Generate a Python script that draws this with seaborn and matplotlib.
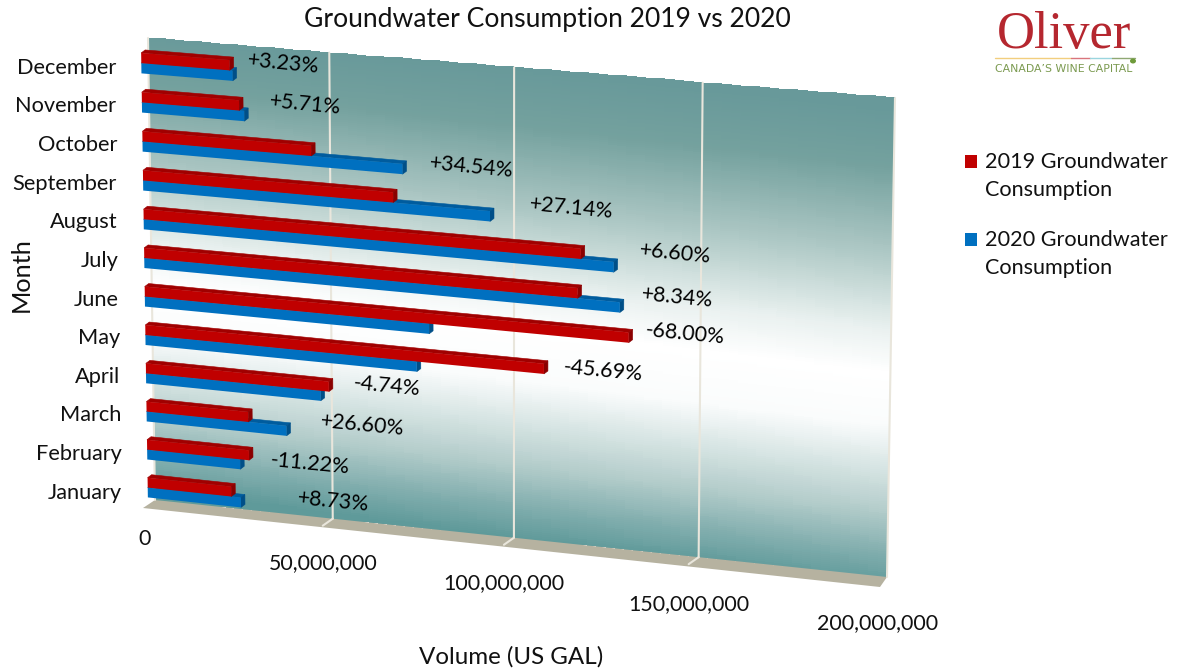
import numpy as np
import pandas as pd
import seaborn as sns
import matplotlib
matplotlib.use("Agg")
import matplotlib.pyplot as plt
from matplotlib.transforms import Transform, Affine2D
from matplotlib.colors import LinearSegmentedColormap
from matplotlib.patches import Polygon, Ellipse

months = ["December", "November", "October", "September", "August", "July",
          "June", "May", "April", "March", "February", "January"]
vol_2019 = [24.6, 27.1, 46.9, 69.3, 120.0, 119.2, 132.9, 110.2, 51.3, 28.7, 28.8, 23.7]
vol_2020 = [25.4, 28.5, 71.9, 95.6, 128.8, 130.5, 79.0, 75.6, 49.0, 39.4, 26.3, 26.4]
changes = ["+3.23%", "+5.71%", "+34.54%", "+27.14%", "+6.60%", "+8.34%",
           "-68.00%", "-45.69%", "-4.74%", "+26.60%", "-11.22%", "+8.73%"]
label_xy = [(283, 63), (305, 104), (471, 167), (571, 208), (675, 253), (677, 297),
            (685, 334), (603, 371), (387, 386), (362, 425), (310, 464), (333, 501)]
series = ["2019 Groundwater\nConsumption", "2020 Groundwater\nConsumption"]
xticks = [0, 50e6, 100e6, 150e6, 200e6]
XMAX = 200e6
W, H = 1180, 672

sns.set_theme(style="white")
plt.rcParams["font.family"] = ["Lato", "DejaVu Sans"]
FS = 15.4

px = Affine2D().scale(1, -1).translate(0, H)


class Homography(Transform):
    input_dims = output_dims = 2
    is_separable = False
    has_inverse = False

    def __init__(self, tl, tr, br, bl):
        super().__init__()
        src = [(0, -0.5), (XMAX, -0.5), (XMAX, 11.5), (0, 11.5)]
        A, b = [], []
        for (u, v), (x, y) in zip(src, [tl, tr, br, bl]):
            u = u / XMAX
            A.append([u, v, 1, 0, 0, 0, -u * x, -v * x]); b.append(x)
            A.append([0, 0, 0, u, v, 1, -u * y, -v * y]); b.append(y)
        self.m = np.append(np.linalg.solve(np.array(A, float), np.array(b, float)), 1).reshape(3, 3)

    def transform_non_affine(self, pts):
        pts = np.asarray(pts, float)
        q = np.c_[pts[:, 0] / XMAX, pts[:, 1], np.ones(len(pts))] @ self.m.T
        return q[:, :2] / q[:, 2:3]


WALL = [(148, 38), (895, 98), (887, 577), (155, 500)]
PLANE = [(141, 43.5), (888, 103.5), (880, 585.5), (148, 506.5)]
FLOOR_BL, FLOOR_BR = (143, 508), (880, 587)
H_wall = Homography(*WALL)
H_bars = Homography(*PLANE)
T_wall = H_wall + px
T_bars = H_bars + px

fig = plt.figure(figsize=(W / 100, H / 100), dpi=100, facecolor="white")
ax = fig.add_axes([145 / W, (H - 509.3) / H, 733 / W, 463.6 / H])

rows = np.arange(len(months))
df = pd.DataFrame({
    "Row": np.r_[rows, rows],
    "Volume": np.r_[vol_2019, vol_2020] * 1e6,
    "Series": [series[0]] * 12 + [series[1]] * 12,
})
sns.barplot(data=df, y="Row", x="Volume", hue="Series", hue_order=series, native_scale=True,
            palette=["#C00000", "#0070C0"], saturation=1, width=0.52, gap=0,
            linewidth=0, orient="h", ax=ax, legend=True)
ax.patch.set_visible(False)
sns.despine(ax=ax, left=True, bottom=True)

# back wall with gradient
uu, cc = np.meshgrid(np.linspace(0, XMAX, 41), np.linspace(-0.5, 11.5, 241))
frac = (cc + 0.5) / 12 + 0.04 * (0.5 - uu / XMAX)
cmap = LinearSegmentedColormap.from_list("wall", [
    (0.0, "#68999A"), (0.12, "#74A19E"), (0.30, "#AEC8C5"), (0.46, "#EAF1F0"), (0.55, "#FFFFFF"),
    (0.66, "#FAFCFC"), (0.84, "#B4CDCB"), (0.93, "#82AEAE"), (1.0, "#5F9A9A")])
ax.pcolormesh(uu, cc, np.clip(frac, 0, 1)[:-1, :-1], cmap=cmap, vmin=0, vmax=1, shading="flat",
              transform=T_wall, zorder=0.5, clip_on=False)
ax.set_xlim(0, XMAX)
ax.set_ylim(11.5, -0.5)

# floor
ax.add_patch(Polygon([WALL[3], WALL[2], FLOOR_BR, FLOOR_BL], closed=True, fc="#B6B2A0", ec="none",
                     transform=px, zorder=0.6, clip_on=False))
# gridlines and floor ticks
for v in xticks:
    ax.plot([v, v], [-0.5, 11.5], color="#E9E6DC", lw=1.5, transform=T_wall, zorder=0.7, clip_on=False)
    if 0 < v < XMAX:
        a = H_wall.transform_non_affine(np.array([[v, 11.5]]))[0]
        ax.plot([a[0], a[0] - 10], [a[1], a[1] + 7], color="#E9E6DC", lw=1.5, transform=px, zorder=0.7,
                clip_on=False)

# 3D bars
faces = [("#A00000", "#8A0000", "#C00000", 3), ("#005C9E", "#004F88", "#0070C0", 2)]
DX, DY = 4, -3
for cont, (top_c, side_c, front_c, z) in zip(ax.containers, faces):
    for rect in cont:
        rect.set_transform(T_bars)
        rect.set_clip_on(False)
        rect.set_zorder(z + 0.1)
        x1 = rect.get_x() + rect.get_width()
        y0, y1 = rect.get_y(), rect.get_y() + rect.get_height()
        p = H_bars.transform_non_affine(np.array([[0, y0], [x1, y0], [x1, y1]]))
        off = np.array([DX, DY])
        ax.add_patch(Polygon([p[0], p[1], p[1] + off, p[0] + off], fc=top_c, ec=top_c, lw=0.4, transform=px,
                             zorder=z, clip_on=False))
        ax.add_patch(Polygon([p[1], p[2], p[2] + off, p[1] + off], fc=side_c, ec=side_c, lw=0.4, transform=px,
                             zorder=z, clip_on=False))

# data labels
for s, (x, y) in zip(changes, label_xy):
    ax.text(x, y, s, transform=px, fontsize=FS, color="black", rotation=-5.5, rotation_mode="anchor",
            ha="center", va="center", zorder=5, clip_on=False)

# axes text
ax.tick_params(axis="both", length=0, pad=0, labelsize=FS, labelcolor="#111111")
ax.tick_params(axis="y", labelsize=15.7)
ax.set_xticks(xticks)
ax.set_xticklabels([f"{v:,.0f}" for v in xticks])
ax.set_yticks(rows)
ax.set_yticklabels(months)
x_dx = [0, -5, -7.5, -6, 0]
x_cy = [539, 563, 583, 604, 623]
for t, dx, cy in zip(ax.xaxis.get_major_ticks(), x_dx, x_cy):
    t.label1.set_va("center")
    t.label1.set_transform(t.label1.get_transform() + Affine2D().translate(dx, -(cy - 509.3)))
y_right = [116, 116, 117, 117, 118, 119, 119, 120, 120, 121, 122, 122]
for t, r in zip(ax.yaxis.get_major_ticks(), y_right):
    t.label1.set_transform(t.label1.get_transform() + Affine2D().translate(r - 145, -0.7))

ax.set_xlabel("Volume (US GAL)", fontsize=17.4, color="#111111", va="center")
ax.xaxis.set_label_coords(511, 657, transform=px)
ax.set_ylabel("Month", fontsize=18.2, color="#111111", va="center")
ax.yaxis.set_label_coords(21, 275, transform=px)
title = ax.set_title("Groundwater Consumption 2019 vs 2020", fontsize=19.1, color="#111111", y=1)
title.set_transform(px)
title.set_position((547, 20))
title.set_ha("center")
title.set_va("center")

# legend
leg = ax.legend(loc="upper left", bbox_to_anchor=(965, 152), bbox_transform=px, frameon=False,
                fontsize=15.6, handlelength=0.56, handleheight=0.56, handletextpad=0.37,
                labelspacing=1.37, borderpad=0, borderaxespad=0, title=None)
for t in leg.get_texts():
    t.set_color("#111111")
    t.set_linespacing(1.5)
for h in leg.legend_handles:
    h.set_y(h.get_y() + 10.5)

# logo
ax.text(1064, 35, "Oliver", transform=px, family="Liberation Serif", fontsize=38, color="#B5272F",
        ha="center", va="center", clip_on=False)
for x0, x1, c in [(995, 1071, "#F2CE7E"), (1071, 1090, "#D9757C"), (1090, 1112, "#9AD5DE"),
                  (1112, 1135, "#8FA873")]:
    ax.plot([x0, x1], [57.5, 57.5], color=c, lw=1, transform=px, clip_on=False, zorder=5)
ax.add_patch(Ellipse((1133, 61), 6, 5, fc="#6E9A3A", ec="none", transform=px, clip_on=False, zorder=5))
ax.text(1064, 68.5, "CANADA\u2019S WINE CAPITAL", transform=px, family="DejaVu Sans", fontsize=7.8,
        color="#7B9A50", ha="center", va="center", clip_on=False)

fig.savefig("out.png", dpi=100, facecolor="white")
